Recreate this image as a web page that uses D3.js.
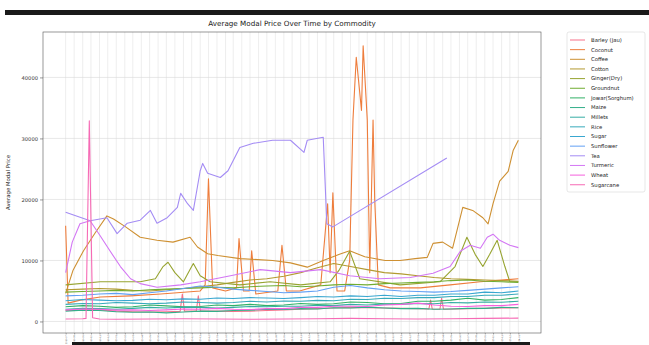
<!DOCTYPE html>
<html>
<head>
<meta charset="utf-8">
<script src="https://cdn.jsdelivr.net/npm/d3@7"></script>
<style>
  body { margin: 0; background: #fff; }
  svg { display: block; font-family: "DejaVu Sans", sans-serif; }
</style>
</head>
<body>
<svg id="chart" width="649" height="345"></svg>
<script>
// ---- data ----------------------------------------------------------------
const commodities = ["Barley (Jau)", "Coconut", "Coffee", "Cotton", "Ginger(Dry)", "Groundnut",
  "Jowar(Sorghum)", "Maize", "Millets", "Rice", "Sugar", "Sunflower", "Tea", "Turmeric", "Wheat", "Sugarcane"];

// husl-style palette, one colour per commodity
const palette = ["#f77189", "#ee7d3c", "#ce9032", "#b39a31", "#97a431", "#70ac31", "#32b166", "#34af8a",
  "#36ada4", "#37aabb", "#39a7d0", "#62a0f4", "#a48cf4", "#d376f4", "#f561dd", "#f66ab5"];

const yTickValues = [0, 10000, 20000, 30000, 40000];

// bi-monthly reporting dates shared by the steadier commodities
const biMonths = ["2019-07-01", "2019-09-01", "2019-11-01", "2020-01-01", "2020-03-01", "2020-05-01", "2020-07-01",
  "2020-09-01", "2020-11-01", "2021-01-01", "2021-03-01", "2021-05-01", "2021-07-01", "2021-09-01", "2021-11-01",
  "2022-01-01", "2022-03-01", "2022-05-01", "2022-07-01", "2022-09-01", "2022-11-01", "2023-01-01", "2023-03-01",
  "2023-05-01", "2023-07-01", "2023-09-01", "2023-11-01", "2024-01-01"];

const cotton    = [5200,5300,5400,5300,5100,5000,5200,5400,5700,6000,6400,6800,7000,7400,8000,8800,9500,9000,8500,8000,7800,7500,7200,7000,6900,6800,6700,6600];
const groundnut = [4800,4900,5000,5100,5000,5200,5300,5400,5500,5600,5500,5700,5800,5900,5700,5800,6000,6100,6000,6200,6300,6400,6500,6700,6800,6600,6500,6400];
const jowar     = [2400,2600,2500,2300,2400,2700,2550,2400,2450,2700,2600,2800,2600,2700,2950,2800,2900,3200,3100,2900,2950,3300,3300,3500,3800,3500,3600,3900];
const maize     = [1700,1850,1800,1600,1500,1550,1400,1550,1700,1650,1800,1850,2000,1950,2100,2050,2250,2200,2350,2200,2100,2150,2000,2050,2150,2150,2300,2250];
const millets   = [2000,2150,2100,2000,2150,2300,2200,2350,2300,2200,2300,2450,2400,2500,2500,2650,2600,2800,2700,2850,2800,2950,2900,3100,3050,3200,3150,3300];
const rice      = [2800,2950,2900,3100,3000,2900,3000,3200,3100,3000,3100,3300,3200,3350,3300,3450,3400,3650,3600,3800,3750,3900,3900,4100,4100,4300,4300,4500];
const sugar     = [3400,3600,3500,3400,3450,3650,3550,3700,3650,3850,3750,3900,3850,3750,3900,4100,4000,4200,4100,4300,4100,4300,4300,4500,4500,4800,4700,5000];
const sunflower = [4200,4300,4500,4600,4400,4700,5000,5400,5800,5600,5300,5100,4900,4700,4800,5000,5600,5900,5500,5200,5000,4900,4800,4900,5100,5300,5500,5700];
const wheat     = [1900,2050,2000,1850,1900,1800,1900,2050,2000,2150,2000,1950,2100,2100,2300,2300,2500,2500,2450,2700,2800,3000,2700,2500,2450,2600,2600,2800];

// commodities reported on irregular dates: [date, modal price]
const barley = [["2019-07-01",1800],["2019-09-01",1850],["2019-11-01",1900],["2020-01-01",1700],["2020-03-01",1600],
  ["2020-05-01",1550],["2020-07-01",1600],["2020-08-20",1650],["2020-08-28",4500],["2020-09-05",1700],["2020-10-18",1750],
  ["2020-10-25",4200],["2020-11-02",1750],["2021-01-01",1700],["2021-03-01",1650],["2021-05-01",1700],["2021-07-01",1800],
  ["2021-09-01",1900],["2021-11-01",2000],["2022-01-01",2100],["2022-03-01",2200],["2022-05-01",2300],["2022-07-01",2250],
  ["2022-09-01",2200],["2022-11-01",2150],["2023-01-01",2100],["2023-02-10",2050],["2023-02-16",3500],["2023-02-22",2050],
  ["2023-03-22",2000],["2023-03-28",3800],["2023-04-04",2000],["2023-07-01",2100],["2023-09-01",2150],["2023-11-01",2200],
  ["2024-01-01",2250]];

const coconut = [["2019-07-01",15700],["2019-07-10",3000],["2019-08-23",3500],["2019-11-04",4000],["2020-02-22",4200],
  ["2020-06-10",4500],["2020-11-01",5000],["2020-11-19",6000],["2020-12-01",23400],["2020-12-16",5500],["2021-02-01",5000],
  ["2021-03-13",5500],["2021-03-22",13600],["2021-04-07",5000],["2021-04-28",5000],["2021-05-07",11600],["2021-05-22",4500],
  ["2021-08-10",5000],["2021-08-25",12500],["2021-09-10",5000],["2021-10-28",5000],["2022-01-13",6000],["2022-02-07",19300],
  ["2022-02-16",8000],["2022-02-26",21100],["2022-03-13",5000],["2022-04-10",5000],["2022-04-28",10000],["2022-05-10",33000],
  ["2022-05-22",43300],["2022-06-10",34600],["2022-06-16",45200],["2022-07-01",33000],["2022-07-10",8000],["2022-07-22",33000],
  ["2022-07-28",20000],["2022-08-10",6000],["2022-09-22",5500],["2023-01-10",5500],["2023-04-28",6000],["2023-08-16",6500],
  ["2024-01-01",7000]];

const coffee = [["2019-07-01",4600],["2019-07-28",8400],["2019-09-04",11600],["2019-10-16",14500],["2019-11-28",17300],
  ["2019-12-22",16800],["2020-02-04",15500],["2020-03-28",13800],["2020-05-28",13300],["2020-07-25",13000],["2020-09-25",13800],
  ["2020-10-22",12200],["2020-11-28",11100],["2021-01-04",10800],["2021-03-25",10300],["2021-07-22",10000],["2021-09-25",9600],
  ["2021-11-25",8900],["2022-01-22",10000],["2022-03-22",11000],["2022-04-28",11600],["2022-06-22",10600],["2022-09-04",10000],
  ["2022-10-28",10000],["2022-12-22",10300],["2023-02-04",10500],["2023-02-25",12800],["2023-04-01",13000],["2023-05-07",12000],
  ["2023-06-13",18700],["2023-07-19",18200],["2023-08-25",17000],["2023-09-13",16000],["2023-10-01",19300],["2023-10-25",23000],
  ["2023-11-25",24600],["2023-12-13",28000],["2024-01-01",29700]];

const ginger = [["2019-07-01",6000],["2019-11-04",6500],["2020-03-28",6500],["2020-05-22",7000],["2020-06-19",9000],
  ["2020-07-07",9700],["2020-08-01",8000],["2020-09-01",6500],["2020-09-25",8500],["2020-10-07",9500],["2020-11-01",7500],
  ["2020-12-07",6500],["2021-03-25",6000],["2021-07-13",6500],["2021-11-01",6000],["2022-02-16",6500],["2022-03-22",8500],
  ["2022-04-28",11500],["2022-06-04",7000],["2022-10-28",6000],["2023-03-22",6500],["2023-05-16",9000],["2023-06-28",13800],
  ["2023-07-28",11000],["2023-08-25",9000],["2023-09-19",11000],["2023-10-16",13300],["2023-11-13",9000],["2023-12-01",6500],
  ["2024-01-01",6500]];

const tea = [["2019-07-01",17900],["2019-09-28",16500],["2019-11-28",17000],["2020-01-04",14400],["2020-02-10",16100],
  ["2020-03-28",16600],["2020-05-04",18200],["2020-05-28",16100],["2020-07-04",17000],["2020-08-10",18700],["2020-08-22",21000],
  ["2020-09-16",19300],["2020-10-07",18200],["2020-11-01",24700],["2020-11-10",25900],["2020-11-28",24300],["2021-01-13",23600],
  ["2021-02-10",24700],["2021-03-25",28500],["2021-05-13",29200],["2021-07-22",29700],["2021-09-25",29700],["2021-11-13",27700],
  ["2021-11-25",29700],["2022-01-22",30200],["2022-02-04",16000],["2022-02-26",15500],["2023-04-16",26800]];

const turmeric = [["2019-07-01",8000],["2019-07-25",13000],["2019-08-22",16000],["2019-09-28",16500],["2019-11-04",14000],
  ["2019-12-10",11500],["2020-01-16",9000],["2020-02-22",7000],["2020-03-28",6200],["2020-05-28",5600],["2020-08-22",6000],
  ["2020-11-01",6500],["2021-02-19",7500],["2021-06-07",8500],["2021-09-25",8000],["2022-01-13",8500],["2022-04-28",7500],
  ["2022-08-16",7000],["2022-12-04",7200],["2023-02-25",7900],["2023-04-28",9000],["2023-06-04",11500],["2023-07-10",12500],
  ["2023-08-16",12000],["2023-09-10",13800],["2023-10-01",14300],["2023-10-25",13300],["2023-12-01",12500],["2024-01-01",12100]];

const sugarcane = [["2019-07-01",400],["2019-09-01",450],["2019-09-13",500],["2019-09-25",32900],["2019-10-07",600],
  ["2019-11-01",400],["2020-01-01",350],["2020-05-01",400],["2020-09-01",450],["2021-01-01",400],["2021-05-01",350],
  ["2021-09-01",400],["2022-01-01",450],["2022-05-01",500],["2022-09-01",450],["2023-01-01",400],["2023-05-01",450],
  ["2023-09-01",500],["2024-01-01",550]];

// ---- assemble one point list per commodity -------------------------------
const parse = d3.timeParse("%Y-%m-%d");
const fromBi = vals => vals.map((v, i) => ({ date: parse(biMonths[i]), value: v }));
const fromPairs = pairs => pairs.map(([d, v]) => ({ date: parse(d), value: v }));

const seriesData = {
  "Barley (Jau)": fromPairs(barley), "Coconut": fromPairs(coconut), "Coffee": fromPairs(coffee),
  "Cotton": fromBi(cotton), "Ginger(Dry)": fromPairs(ginger), "Groundnut": fromBi(groundnut),
  "Jowar(Sorghum)": fromBi(jowar), "Maize": fromBi(maize), "Millets": fromBi(millets), "Rice": fromBi(rice),
  "Sugar": fromBi(sugar), "Sunflower": fromBi(sunflower), "Tea": fromPairs(tea), "Turmeric": fromPairs(turmeric),
  "Wheat": fromBi(wheat), "Sugarcane": fromPairs(sugarcane)
};
const series = commodities.map((name, i) => ({ name, color: palette[i], points: seriesData[name] }));

// ---- layout ---------------------------------------------------------------
const svg = d3.select("#chart");
const plot = { left: 43, right: 541, top: 32, bottom: 333 };

const allPts = series.flatMap(s => s.points);
const [t0, t1] = d3.extent(allPts, d => d.date);
const tPad = (t1 - t0) * 0.05;
const x = d3.scaleTime()
  .domain([new Date(+t0 - tPad), new Date(+t1 + tPad)])
  .range([plot.left, plot.right]);

const [v0, v1] = d3.extent(allPts, d => d.value);
const vPad = (v1 - v0) * 0.05;
const y = d3.scaleLinear().domain([v0 - vPad, v1 + vPad]).range([plot.bottom, plot.top]);

// one tick per month across the reporting period
const monthTicks = d3.timeMonth.range(t0, d3.timeDay.offset(t1, 1));

// grid
const grid = svg.append("g");
grid.selectAll("line.vg").data(monthTicks).join("line")
  .attr("x1", d => x(d)).attr("x2", d => x(d))
  .attr("y1", plot.top).attr("y2", plot.bottom)
  .attr("stroke", "#e2e2e2").attr("stroke-width", 0.6);
grid.selectAll("line.hg").data(yTickValues).join("line")
  .attr("x1", plot.left).attr("x2", plot.right)
  .attr("y1", d => y(d)).attr("y2", d => y(d))
  .attr("stroke", "#d8d8d8").attr("stroke-width", 0.6);

// lines
const line = d3.line().x(d => x(d.date)).y(d => y(d.value));
svg.append("g").selectAll("path").data(series).join("path")
  .attr("d", d => line(d.points))
  .attr("fill", "none")
  .attr("stroke", d => d.color)
  .attr("stroke-width", 1.1)
  .attr("stroke-linejoin", "round");

// frame
svg.append("rect")
  .attr("x", plot.left).attr("y", plot.top)
  .attr("width", plot.right - plot.left).attr("height", plot.bottom - plot.top)
  .attr("fill", "none").attr("stroke", "#555").attr("stroke-width", 0.6);

// y axis
const yAxis = svg.append("g")
  .attr("transform", `translate(${plot.left},0)`)
  .call(d3.axisLeft(y).tickValues(yTickValues).tickFormat(d3.format("d")).tickSize(3).tickPadding(2));
yAxis.select(".domain").remove();
yAxis.selectAll("line").attr("stroke", "#555").attr("stroke-width", 0.6);
yAxis.selectAll("text").attr("font-size", 5.2).attr("fill", "#333").attr("font-family", "DejaVu Sans");

// x axis: one tick per month, tiny rotated labels
const xAxis = svg.append("g")
  .attr("transform", `translate(0,${plot.bottom})`)
  .call(d3.axisBottom(x).tickValues(monthTicks).tickFormat(d3.timeFormat("%Y-%m")).tickSize(1.5));
xAxis.select(".domain").remove();
xAxis.selectAll("line").attr("stroke", "#555").attr("stroke-width", 0.5);
xAxis.selectAll("text")
  .attr("font-size", 2.2).attr("fill", "#444").attr("font-family", "DejaVu Sans")
  .attr("text-anchor", "end").attr("dy", "0.32em")
  .attr("transform", "translate(0,2) rotate(-90)")
  .attr("x", 0).attr("y", 0);

// titles
svg.append("text")
  .attr("x", (plot.left + plot.right) / 2).attr("y", 26)
  .attr("text-anchor", "middle").attr("font-size", 7.2).attr("fill", "#222")
  .text("Average Modal Price Over Time by Commodity");
svg.append("text")
  .attr("transform", `translate(10,${(plot.top + plot.bottom) / 2}) rotate(-90)`)
  .attr("text-anchor", "middle").attr("font-size", 5.4).attr("fill", "#222")
  .text("Average Modal Price");

// legend
const legend = svg.append("g");
legend.append("rect")
  .attr("x", 567).attr("y", 32).attr("width", 78).attr("height", 160).attr("rx", 2)
  .attr("fill", "#fff").attr("stroke", "#d6d6d6").attr("stroke-width", 0.6);
const item = legend.selectAll("g.item").data(series).join("g")
  .attr("transform", (d, i) => `translate(570,${40 + i * 9.65})`);
item.append("line").attr("x1", 0).attr("x2", 15).attr("stroke", d => d.color).attr("stroke-width", 1);
item.append("text").attr("x", 21).attr("dy", "0.35em").attr("font-size", 5.3).attr("fill", "#222")
  .text(d => d.name);

// window chrome bars
svg.append("rect").attr("x", 5).attr("y", 10).attr("width", 644).attr("height", 5).attr("fill", "#1a1a1a");
svg.append("rect").attr("x", 72).attr("y", 342).attr("width", 458).attr("height", 3).attr("fill", "#1a1a1a");
</script>
</body>
</html>
